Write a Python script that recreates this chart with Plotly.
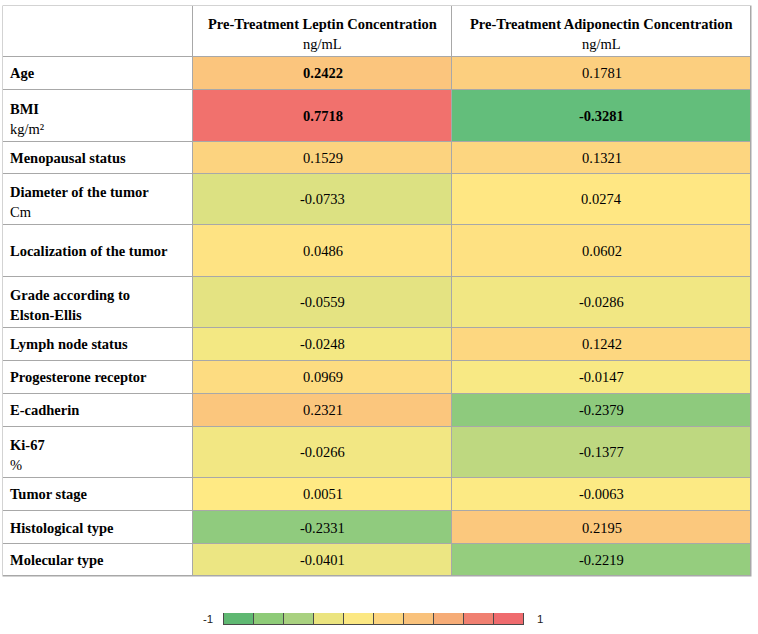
import plotly.graph_objects as go
import numpy as np

# ---------------- data ----------------
row_titles = ["Age", "BMI", "Menopausal status", "Diameter of the tumor",
              "Localization of the tumor", "Grade according to<br>Elston-Ellis",
              "Lymph node status", "Progesterone receptor", "E-cadherin", "Ki-67",
              "Tumor stage", "Histological type", "Molecular type"]
row_units = ["", "kg/m²", "", "Cm", "", "", "", "", "", "%", "", "", ""]
col_titles = ["Pre-Treatment Leptin Concentration", "Pre-Treatment Adiponectin Concentration"]
col_units = ["ng/mL", "ng/mL"]
leptin = [0.2422, 0.7718, 0.1529, -0.0733, 0.0486, -0.0559, -0.0248,
          0.0969, 0.2321, -0.0266, 0.0051, -0.2331, -0.0401]
adiponectin = [0.1781, -0.3281, 0.1321, 0.0274, 0.0602, -0.0286, 0.1242,
               -0.0147, -0.2379, -0.1377, -0.0063, 0.2195, -0.2219]
bold_cells = [(0, 0), (1, 0), (1, 1)]  # (row, column) shown in bold
legend_colors = ["#5fb872", "#8ecb78", "#a9d180", "#ebe47f", "#fce883",
                 "#fcd580", "#f9c27c", "#f6ac77", "#f08071", "#ef6b6e"]
legend_labels = ["-1", "1"]

# ---------------- layout (pixels) ----------------
W, H = 758, 634
col_widths = [190, 259, 299]
header_h = 51
row_heights = [33, 52, 32, 51, 52, 51, 33, 33, 33, 51, 33, 33, 32]
left_px, top_px = 3, 6
grid_color = "#a8a8a8"
serif = "Liberation Serif, Times New Roman, serif"
fs = 14.5

x_edges = np.concatenate([[0], np.cumsum(col_widths)]).astype(float)
y_edges = np.concatenate([[0], np.cumsum([header_h] + row_heights)]).astype(float)
tot_w, tot_h = x_edges[-1], y_edges[-1]

values = np.array([leptin, adiponectin]).T
zmin, zmax = values.min(), values.max()
mid = (0 - zmin) / (zmax - zmin)
cscale = [[0, "#63BE7B"], [mid, "#FFEB84"], [1, "#F1716D"]]

fig = go.Figure()
# white frame (label column + header)
fig.add_trace(go.Heatmap(
    x=x_edges, y=y_edges, z=np.zeros((len(y_edges) - 1, len(x_edges) - 1)),
    colorscale=[[0, "white"], [1, "white"]], showscale=False,
    xgap=1, ygap=1, hoverinfo="skip"))
# data cells
fig.add_trace(go.Heatmap(
    x=x_edges[1:], y=y_edges[1:], z=values, zmin=zmin, zmax=zmax,
    colorscale=cscale, showscale=False, xgap=1, ygap=1,
    hovertemplate="%{z}<extra></extra>"))

# legend: stacked boxes
for c in legend_colors:
    fig.add_trace(go.Bar(x=[1], y=[0], orientation="h", marker_color=c,
                         marker_line=dict(color="#4a4a4a", width=1),
                         xaxis="x2", yaxis="y2", hoverinfo="skip", showlegend=False))

ann = []
# header
for j, (t, u) in enumerate(zip(col_titles, col_units)):
    xc = (x_edges[j + 1] + x_edges[j + 2]) / 2
    yc = header_h / 2
    ann.append(dict(x=xc, y=yc - 7.5, text=f"<b>{t}</b>", showarrow=False,
                    font=dict(family=serif, size=fs, color="black")))
    ann.append(dict(x=xc, y=yc + 12.5, text=u, showarrow=False,
                    font=dict(family=serif, size=fs, color="black")))
# rows
for i, (t, u) in enumerate(zip(row_titles, row_units)):
    yc = (y_edges[i + 1] + y_edges[i + 2]) / 2
    lines = [f"<b>{s}</b>" for s in t.split("<br>")] + ([u] if u else [])
    offs = [0] if len(lines) == 1 else [-7, 13]
    for s, o in zip(lines, offs):
        ann.append(dict(x=5, y=yc + o, text=s, showarrow=False, xanchor="left",
                        font=dict(family=serif, size=fs, color="black")))
    for j in range(2):
        xc = (x_edges[j + 1] + x_edges[j + 2]) / 2
        v = f"{values[i, j]:.4f}"
        if (i, j) in bold_cells:
            v = f"<b>{v}</b>"
        ann.append(dict(x=xc, y=yc, text=v, showarrow=False,
                        font=dict(family=serif, size=fs, color="black")))
# legend labels
ann.append(dict(xref="x2 domain", yref="y2 domain", x=0, y=0.5, xanchor="right",
                xshift=-7, text=legend_labels[0], showarrow=False,
                font=dict(family="Liberation Sans, Arial", size=11.5, color="#222")))
ann.append(dict(xref="x2 domain", yref="y2 domain", x=1, y=0.5, xanchor="left",
                xshift=9, text=legend_labels[1], showarrow=False,
                font=dict(family="Liberation Sans, Arial", size=11.5, color="#222")))

fig.update_layout(
    width=W, height=H, margin=dict(l=0, r=0, t=0, b=0),
    paper_bgcolor="white", plot_bgcolor="white",
    barmode="stack", bargap=0, showlegend=False,
    xaxis=dict(range=[-0.5, tot_w + 0.5], visible=False, fixedrange=True,
               domain=[(left_px - 0.5) / W, (left_px + tot_w + 0.5) / W]),
    yaxis=dict(range=[tot_h + 0.5, -0.5], visible=False, fixedrange=True,
               domain=[(H - top_px - tot_h - 0.5) / H, (H - top_px + 0.5) / H]),
    xaxis2=dict(range=[-0.06, len(legend_colors) + 0.06], visible=False, fixedrange=True,
                domain=[222 / W, 526 / W], anchor="y2"),
    yaxis2=dict(range=[-0.5, 0.5], visible=False, fixedrange=True,
                domain=[(H - 625) / H, (H - 613) / H], anchor="x2"),
    annotations=ann,
    shapes=[dict(type="rect", xref="x domain", yref="y domain", x0=0, x1=1, y0=0, y1=1,
                 fillcolor=grid_color, line_width=0, layer="below")],
)
fig.write_html("out.html", config={"displayModeBar": False},
               post_script="document.body.style.margin='0';")
